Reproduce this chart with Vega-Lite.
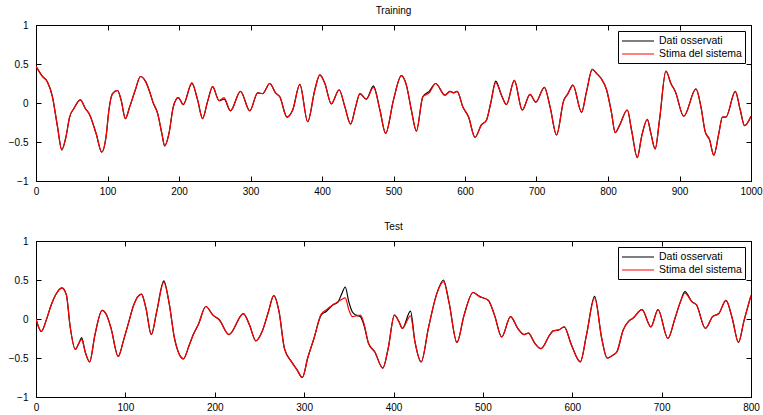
{
  "$schema": "https://vega.github.io/schema/vega-lite/v6.json",
  "padding": {"left": 7, "top": 5, "right": 3, "bottom": 5},
  "config": {
    "font": "Liberation Sans",
    "view": {"stroke": "#000000", "strokeWidth": 1},
    "axis": {"grid": false, "labelFont": "Liberation Sans", "labelFontSize": 10, "labelColor": "#000000", "domainColor": "#000000", "tickColor": "#000000", "tickSize": -5, "title": null, "labelFlush": false, "labelOverlap": false},
    "title": {"font": "Liberation Sans", "fontSize": 10, "fontWeight": "normal", "color": "#000000", "offset": 0},
    "legend": {"labelFont": "Liberation Sans", "labelFontSize": 10.5, "labelColor": "#000000"}
  },
  "spacing": 24,
  "resolve": {"legend": {"color": "independent"}},
  "vconcat": [
    {
      "title": "Training",
      "width": 715,
      "height": 156,
      "data": {"values": [
        {"x": 0, "Dati osservati": 0.47, "Stima del sistema": 0.47},
        {"x": 9, "Dati osservati": 0.34, "Stima del sistema": 0.34},
        {"x": 16, "Dati osservati": 0.27, "Stima del sistema": 0.27},
        {"x": 23, "Dati osservati": 0.08, "Stima del sistema": 0.08},
        {"x": 30, "Dati osservati": -0.30, "Stima del sistema": -0.30},
        {"x": 36, "Dati osservati": -0.60, "Stima del sistema": -0.60},
        {"x": 42, "Dati osservati": -0.43, "Stima del sistema": -0.43},
        {"x": 47, "Dati osservati": -0.18, "Stima del sistema": -0.18},
        {"x": 53, "Dati osservati": -0.07, "Stima del sistema": -0.07},
        {"x": 62, "Dati osservati": 0.04, "Stima del sistema": 0.04},
        {"x": 69, "Dati osservati": -0.07, "Stima del sistema": -0.07},
        {"x": 75, "Dati osservati": -0.15, "Stima del sistema": -0.15},
        {"x": 84, "Dati osservati": -0.39, "Stima del sistema": -0.39},
        {"x": 92, "Dati osservati": -0.63, "Stima del sistema": -0.63},
        {"x": 98, "Dati osservati": -0.43, "Stima del sistema": -0.43},
        {"x": 102, "Dati osservati": -0.09, "Stima del sistema": -0.09},
        {"x": 107, "Dati osservati": 0.12, "Stima del sistema": 0.12},
        {"x": 114, "Dati osservati": 0.16, "Stima del sistema": 0.16},
        {"x": 119, "Dati osservati": 0.04, "Stima del sistema": 0.04},
        {"x": 125, "Dati osservati": -0.20, "Stima del sistema": -0.20},
        {"x": 131, "Dati osservati": -0.05, "Stima del sistema": -0.05},
        {"x": 139, "Dati osservati": 0.17, "Stima del sistema": 0.17},
        {"x": 146, "Dati osservati": 0.34, "Stima del sistema": 0.34},
        {"x": 153, "Dati osservati": 0.28, "Stima del sistema": 0.28},
        {"x": 158, "Dati osservati": 0.17, "Stima del sistema": 0.17},
        {"x": 164, "Dati osservati": 0.0, "Stima del sistema": 0.0},
        {"x": 170, "Dati osservati": -0.13, "Stima del sistema": -0.13},
        {"x": 176, "Dati osservati": -0.39, "Stima del sistema": -0.39},
        {"x": 180, "Dati osservati": -0.55, "Stima del sistema": -0.55},
        {"x": 186, "Dati osservati": -0.39, "Stima del sistema": -0.39},
        {"x": 192, "Dati osservati": -0.05, "Stima del sistema": -0.05},
        {"x": 199, "Dati osservati": 0.07, "Stima del sistema": 0.07},
        {"x": 206, "Dati osservati": -0.02, "Stima del sistema": -0.02},
        {"x": 218, "Dati osservati": 0.25, "Stima del sistema": 0.26},
        {"x": 226, "Dati osservati": 0.04, "Stima del sistema": 0.04},
        {"x": 233, "Dati osservati": -0.20, "Stima del sistema": -0.20},
        {"x": 240, "Dati osservati": 0.02, "Stima del sistema": 0.02},
        {"x": 247, "Dati osservati": 0.21, "Stima del sistema": 0.21},
        {"x": 256, "Dati osservati": 0.03, "Stima del sistema": 0.03},
        {"x": 263, "Dati osservati": 0.05, "Stima del sistema": 0.07},
        {"x": 272, "Dati osservati": -0.10, "Stima del sistema": -0.10},
        {"x": 286, "Dati osservati": 0.15, "Stima del sistema": 0.15},
        {"x": 299, "Dati osservati": -0.10, "Stima del sistema": -0.10},
        {"x": 310, "Dati osservati": 0.13, "Stima del sistema": 0.13},
        {"x": 317, "Dati osservati": 0.12, "Stima del sistema": 0.12},
        {"x": 327, "Dati osservati": 0.25, "Stima del sistema": 0.25},
        {"x": 335, "Dati osservati": 0.13, "Stima del sistema": 0.13},
        {"x": 341, "Dati osservati": 0.08, "Stima del sistema": 0.08},
        {"x": 351, "Dati osservati": -0.18, "Stima del sistema": -0.18},
        {"x": 359, "Dati osservati": -0.09, "Stima del sistema": -0.09},
        {"x": 369, "Dati osservati": 0.24, "Stima del sistema": 0.24},
        {"x": 380, "Dati osservati": -0.24, "Stima del sistema": -0.24},
        {"x": 390, "Dati osservati": 0.17, "Stima del sistema": 0.17},
        {"x": 397, "Dati osservati": 0.36, "Stima del sistema": 0.36},
        {"x": 404, "Dati osservati": 0.25, "Stima del sistema": 0.25},
        {"x": 413, "Dati osservati": -0.01, "Stima del sistema": -0.01},
        {"x": 424, "Dati osservati": 0.17, "Stima del sistema": 0.17},
        {"x": 432, "Dati osservati": -0.05, "Stima del sistema": -0.05},
        {"x": 440, "Dati osservati": -0.27, "Stima del sistema": -0.27},
        {"x": 447, "Dati osservati": -0.05, "Stima del sistema": -0.05},
        {"x": 453, "Dati osservati": 0.12, "Stima del sistema": 0.12},
        {"x": 462, "Dati osservati": 0.05, "Stima del sistema": 0.05},
        {"x": 472, "Dati osservati": 0.22, "Stima del sistema": 0.20},
        {"x": 481, "Dati osservati": -0.09, "Stima del sistema": -0.09},
        {"x": 489, "Dati osservati": -0.39, "Stima del sistema": -0.39},
        {"x": 500, "Dati osservati": 0.04, "Stima del sistema": 0.04},
        {"x": 511, "Dati osservati": 0.35, "Stima del sistema": 0.35},
        {"x": 518, "Dati osservati": 0.23, "Stima del sistema": 0.23},
        {"x": 525, "Dati osservati": -0.09, "Stima del sistema": -0.09},
        {"x": 532, "Dati osservati": -0.36, "Stima del sistema": -0.36},
        {"x": 541, "Dati osservati": 0.08, "Stima del sistema": 0.08},
        {"x": 550, "Dati osservati": 0.15, "Stima del sistema": 0.13},
        {"x": 559, "Dati osservati": 0.25, "Stima del sistema": 0.25},
        {"x": 572, "Dati osservati": 0.10, "Stima del sistema": 0.10},
        {"x": 579, "Dati osservati": 0.15, "Stima del sistema": 0.15},
        {"x": 584, "Dati osservati": 0.13, "Stima del sistema": 0.13},
        {"x": 589, "Dati osservati": 0.15, "Stima del sistema": 0.15},
        {"x": 597, "Dati osservati": -0.05, "Stima del sistema": -0.05},
        {"x": 605, "Dati osservati": -0.18, "Stima del sistema": -0.18},
        {"x": 614, "Dati osservati": -0.44, "Stima del sistema": -0.44},
        {"x": 623, "Dati osservati": -0.28, "Stima del sistema": -0.28},
        {"x": 630, "Dati osservati": -0.22, "Stima del sistema": -0.22},
        {"x": 636, "Dati osservati": 0.0, "Stima del sistema": 0.0},
        {"x": 643, "Dati osservati": 0.28, "Stima del sistema": 0.26},
        {"x": 651, "Dati osservati": 0.10, "Stima del sistema": 0.10},
        {"x": 658, "Dati osservati": -0.02, "Stima del sistema": -0.02},
        {"x": 669, "Dati osservati": 0.29, "Stima del sistema": 0.29},
        {"x": 680, "Dati osservati": -0.09, "Stima del sistema": -0.09},
        {"x": 691, "Dati osservati": 0.11, "Stima del sistema": 0.11},
        {"x": 699, "Dati osservati": 0.01, "Stima del sistema": 0.01},
        {"x": 711, "Dati osservati": 0.20, "Stima del sistema": 0.20},
        {"x": 719, "Dati osservati": -0.05, "Stima del sistema": -0.05},
        {"x": 728, "Dati osservati": -0.41, "Stima del sistema": -0.41},
        {"x": 738, "Dati osservati": 0.03, "Stima del sistema": 0.03},
        {"x": 744, "Dati osservati": 0.12, "Stima del sistema": 0.12},
        {"x": 751, "Dati osservati": 0.23, "Stima del sistema": 0.23},
        {"x": 763, "Dati osservati": -0.12, "Stima del sistema": -0.12},
        {"x": 770, "Dati osservati": 0.15, "Stima del sistema": 0.15},
        {"x": 778, "Dati osservati": 0.43, "Stima del sistema": 0.43},
        {"x": 784, "Dati osservati": 0.38, "Stima del sistema": 0.38},
        {"x": 790, "Dati osservati": 0.32, "Stima del sistema": 0.32},
        {"x": 798, "Dati osservati": 0.17, "Stima del sistema": 0.17},
        {"x": 805, "Dati osservati": -0.13, "Stima del sistema": -0.13},
        {"x": 810, "Dati osservati": -0.38, "Stima del sistema": -0.38},
        {"x": 816, "Dati osservati": -0.29, "Stima del sistema": -0.29},
        {"x": 827, "Dati osservati": -0.09, "Stima del sistema": -0.09},
        {"x": 833, "Dati osservati": -0.35, "Stima del sistema": -0.35},
        {"x": 841, "Dati osservati": -0.70, "Stima del sistema": -0.70},
        {"x": 847, "Dati osservati": -0.43, "Stima del sistema": -0.43},
        {"x": 855, "Dati osservati": -0.21, "Stima del sistema": -0.21},
        {"x": 860, "Dati osservati": -0.39, "Stima del sistema": -0.39},
        {"x": 866, "Dati osservati": -0.59, "Stima del sistema": -0.59},
        {"x": 872, "Dati osservati": -0.22, "Stima del sistema": -0.22},
        {"x": 881, "Dati osservati": 0.41, "Stima del sistema": 0.41},
        {"x": 888, "Dati osservati": 0.25, "Stima del sistema": 0.25},
        {"x": 894, "Dati osservati": 0.15, "Stima del sistema": 0.15},
        {"x": 906, "Dati osservati": -0.17, "Stima del sistema": -0.17},
        {"x": 923, "Dati osservati": 0.18, "Stima del sistema": 0.18},
        {"x": 930, "Dati osservati": -0.05, "Stima del sistema": -0.05},
        {"x": 936, "Dati osservati": -0.37, "Stima del sistema": -0.37},
        {"x": 942, "Dati osservati": -0.47, "Stima del sistema": -0.47},
        {"x": 948, "Dati osservati": -0.67, "Stima del sistema": -0.67},
        {"x": 955, "Dati osservati": -0.39, "Stima del sistema": -0.39},
        {"x": 960, "Dati osservati": -0.18, "Stima del sistema": -0.18},
        {"x": 965, "Dati osservati": -0.18, "Stima del sistema": -0.18},
        {"x": 978, "Dati osservati": 0.15, "Stima del sistema": 0.15},
        {"x": 985, "Dati osservati": -0.09, "Stima del sistema": -0.09},
        {"x": 991, "Dati osservati": -0.29, "Stima del sistema": -0.29},
        {"x": 1000, "Dati osservati": -0.17, "Stima del sistema": -0.17}
      ]},
      "transform": [{"fold": ["Dati osservati", "Stima del sistema"], "as": ["series", "y"]}],
      "layer": [
        {
          "mark": {"type": "line", "interpolate": "monotone", "strokeWidth": 1.2, "clip": true},
          "encoding": {
            "x": {"field": "x", "type": "quantitative", "scale": {"domain": [0, 1000], "nice": false}, "axis": {"values": [0,100,200,300,400,500,600,700,800,900,1000], "labelPadding": 10, "format": "d"}},
            "y": {"field": "y", "type": "quantitative", "scale": {"domain": [-1, 1], "nice": false}, "axis": {"values": [-1,-0.5,0,0.5,1], "format": "~g", "labelPadding": 13}},
            "color": {"field": "series", "type": "nominal", "scale": {"domain": ["Dati osservati", "Stima del sistema"], "range": ["#000000", "#ff0000"]},
              "legend": {"title": null, "orient": "top-right", "offset": 6, "strokeColor": "#000000", "fillColor": "#ffffff", "padding": 3, "symbolType": "M-2.667,0H2.667", "symbolSize": 144, "symbolOffset": 10, "symbolStrokeWidth": 1.2, "rowPadding": 0, "labelOffset": 14}}
          }
        },
        {
          "mark": {"type": "line", "opacity": 0},
          "encoding": {
            "x": {"field": "x", "type": "quantitative", "scale": {"domain": [0, 1000], "nice": false}, "axis": {"orient": "top", "values": [0,100,200,300,400,500,600,700,800,900,1000], "labels": false}},
            "y": {"field": "y", "type": "quantitative", "scale": {"domain": [-1, 1], "nice": false}, "axis": {"orient": "right", "values": [-1,-0.5,0,0.5,1], "labels": false}}
          }
        }
      ],
      "resolve": {"axis": {"x": "independent", "y": "independent"}}
    },
    {
      "title": "Test",
      "width": 715,
      "height": 156,
      "data": {"values": [
        {"x": 0, "Dati osservati": 0.0, "Stima del sistema": 0.0},
        {"x": 6, "Dati osservati": -0.16, "Stima del sistema": -0.16},
        {"x": 11, "Dati osservati": -0.03, "Stima del sistema": -0.03},
        {"x": 17, "Dati osservati": 0.18, "Stima del sistema": 0.18},
        {"x": 22, "Dati osservati": 0.31, "Stima del sistema": 0.31},
        {"x": 29, "Dati osservati": 0.40, "Stima del sistema": 0.40},
        {"x": 34, "Dati osservati": 0.31, "Stima del sistema": 0.31},
        {"x": 38, "Dati osservati": -0.08, "Stima del sistema": -0.08},
        {"x": 44, "Dati osservati": -0.39, "Stima del sistema": -0.39},
        {"x": 48, "Dati osservati": -0.31, "Stima del sistema": -0.31},
        {"x": 51, "Dati osservati": -0.24, "Stima del sistema": -0.26},
        {"x": 55, "Dati osservati": -0.42, "Stima del sistema": -0.42},
        {"x": 60, "Dati osservati": -0.55, "Stima del sistema": -0.55},
        {"x": 66, "Dati osservati": -0.20, "Stima del sistema": -0.20},
        {"x": 74, "Dati osservati": 0.11, "Stima del sistema": 0.11},
        {"x": 79, "Dati osservati": 0.05, "Stima del sistema": 0.05},
        {"x": 84, "Dati osservati": -0.12, "Stima del sistema": -0.12},
        {"x": 92, "Dati osservati": -0.48, "Stima del sistema": -0.48},
        {"x": 98, "Dati osservati": -0.27, "Stima del sistema": -0.27},
        {"x": 104, "Dati osservati": -0.03, "Stima del sistema": -0.03},
        {"x": 109, "Dati osservati": 0.17, "Stima del sistema": 0.17},
        {"x": 118, "Dati osservati": 0.32, "Stima del sistema": 0.32},
        {"x": 123, "Dati osservati": 0.14, "Stima del sistema": 0.14},
        {"x": 129, "Dati osservati": -0.20, "Stima del sistema": -0.20},
        {"x": 135, "Dati osservati": 0.09, "Stima del sistema": 0.09},
        {"x": 143, "Dati osservati": 0.49, "Stima del sistema": 0.47},
        {"x": 149, "Dati osservati": 0.20, "Stima del sistema": 0.20},
        {"x": 155, "Dati osservati": -0.25, "Stima del sistema": -0.25},
        {"x": 165, "Dati osservati": -0.51, "Stima del sistema": -0.51},
        {"x": 171, "Dati osservati": -0.35, "Stima del sistema": -0.35},
        {"x": 176, "Dati osservati": -0.20, "Stima del sistema": -0.20},
        {"x": 182, "Dati osservati": -0.06, "Stima del sistema": -0.06},
        {"x": 190, "Dati osservati": 0.16, "Stima del sistema": 0.16},
        {"x": 198, "Dati osservati": 0.05, "Stima del sistema": 0.05},
        {"x": 205, "Dati osservati": -0.01, "Stima del sistema": -0.01},
        {"x": 216, "Dati osservati": -0.20, "Stima del sistema": -0.20},
        {"x": 232, "Dati osservati": 0.07, "Stima del sistema": 0.07},
        {"x": 239, "Dati osservati": -0.08, "Stima del sistema": -0.08},
        {"x": 246, "Dati osservati": -0.28, "Stima del sistema": -0.28},
        {"x": 253, "Dati osservati": -0.16, "Stima del sistema": -0.16},
        {"x": 260, "Dati osservati": 0.09, "Stima del sistema": 0.09},
        {"x": 266, "Dati osservati": 0.30, "Stima del sistema": 0.30},
        {"x": 272, "Dati osservati": 0.09, "Stima del sistema": 0.09},
        {"x": 278, "Dati osservati": -0.38, "Stima del sistema": -0.38},
        {"x": 286, "Dati osservati": -0.55, "Stima del sistema": -0.55},
        {"x": 292, "Dati osservati": -0.65, "Stima del sistema": -0.65},
        {"x": 298, "Dati osservati": -0.75, "Stima del sistema": -0.75},
        {"x": 304, "Dati osservati": -0.50, "Stima del sistema": -0.50},
        {"x": 311, "Dati osservati": -0.25, "Stima del sistema": -0.25},
        {"x": 319, "Dati osservati": 0.05, "Stima del sistema": 0.06},
        {"x": 325, "Dati osservati": 0.10, "Stima del sistema": 0.12},
        {"x": 332, "Dati osservati": 0.18, "Stima del sistema": 0.18},
        {"x": 338, "Dati osservati": 0.22, "Stima del sistema": 0.22},
        {"x": 342, "Dati osservati": 0.32, "Stima del sistema": 0.25},
        {"x": 346, "Dati osservati": 0.41, "Stima del sistema": 0.27},
        {"x": 350, "Dati osservati": 0.22, "Stima del sistema": 0.12},
        {"x": 354, "Dati osservati": 0.09, "Stima del sistema": 0.03},
        {"x": 358, "Dati osservati": 0.05, "Stima del sistema": 0.04},
        {"x": 363, "Dati osservati": 0.03, "Stima del sistema": 0.05},
        {"x": 367, "Dati osservati": -0.08, "Stima del sistema": -0.06},
        {"x": 372, "Dati osservati": -0.31, "Stima del sistema": -0.31},
        {"x": 379, "Dati osservati": -0.42, "Stima del sistema": -0.42},
        {"x": 388, "Dati osservati": -0.63, "Stima del sistema": -0.63},
        {"x": 394, "Dati osservati": -0.38, "Stima del sistema": -0.38},
        {"x": 401, "Dati osservati": 0.05, "Stima del sistema": 0.05},
        {"x": 406, "Dati osservati": -0.03, "Stima del sistema": -0.03},
        {"x": 410, "Dati osservati": -0.12, "Stima del sistema": -0.12},
        {"x": 419, "Dati osservati": 0.10, "Stima del sistema": 0.04},
        {"x": 424, "Dati osservati": -0.29, "Stima del sistema": -0.29},
        {"x": 431, "Dati osservati": -0.55, "Stima del sistema": -0.55},
        {"x": 439, "Dati osservati": -0.12, "Stima del sistema": -0.12},
        {"x": 448, "Dati osservati": 0.31, "Stima del sistema": 0.31},
        {"x": 456, "Dati osservati": 0.50, "Stima del sistema": 0.48},
        {"x": 462, "Dati osservati": 0.22, "Stima del sistema": 0.22},
        {"x": 471, "Dati osservati": -0.30, "Stima del sistema": -0.30},
        {"x": 479, "Dati osservati": 0.05, "Stima del sistema": 0.05},
        {"x": 489, "Dati osservati": 0.34, "Stima del sistema": 0.34},
        {"x": 496, "Dati osservati": 0.29, "Stima del sistema": 0.29},
        {"x": 506, "Dati osservati": 0.24, "Stima del sistema": 0.24},
        {"x": 513, "Dati osservati": 0.05, "Stima del sistema": 0.05},
        {"x": 521, "Dati osservati": -0.23, "Stima del sistema": -0.23},
        {"x": 531, "Dati osservati": 0.03, "Stima del sistema": 0.03},
        {"x": 539, "Dati osservati": -0.12, "Stima del sistema": -0.12},
        {"x": 546, "Dati osservati": -0.20, "Stima del sistema": -0.20},
        {"x": 551, "Dati osservati": -0.18, "Stima del sistema": -0.18},
        {"x": 558, "Dati osservati": -0.31, "Stima del sistema": -0.31},
        {"x": 565, "Dati osservati": -0.38, "Stima del sistema": -0.38},
        {"x": 575, "Dati osservati": -0.20, "Stima del sistema": -0.20},
        {"x": 579, "Dati osservati": -0.15, "Stima del sistema": -0.15},
        {"x": 585, "Dati osservati": -0.14, "Stima del sistema": -0.14},
        {"x": 591, "Dati osservati": -0.10, "Stima del sistema": -0.10},
        {"x": 599, "Dati osservati": -0.33, "Stima del sistema": -0.33},
        {"x": 609, "Dati osservati": -0.55, "Stima del sistema": -0.55},
        {"x": 616, "Dati osservati": -0.20, "Stima del sistema": -0.20},
        {"x": 625, "Dati osservati": 0.29, "Stima del sistema": 0.27},
        {"x": 633, "Dati osservati": -0.25, "Stima del sistema": -0.25},
        {"x": 639, "Dati osservati": -0.50, "Stima del sistema": -0.50},
        {"x": 646, "Dati osservati": -0.46, "Stima del sistema": -0.46},
        {"x": 650, "Dati osservati": -0.42, "Stima del sistema": -0.42},
        {"x": 657, "Dati osservati": -0.14, "Stima del sistema": -0.14},
        {"x": 663, "Dati osservati": -0.03, "Stima del sistema": -0.03},
        {"x": 668, "Dati osservati": 0.01, "Stima del sistema": 0.01},
        {"x": 678, "Dati osservati": 0.12, "Stima del sistema": 0.12},
        {"x": 688, "Dati osservati": -0.10, "Stima del sistema": -0.10},
        {"x": 696, "Dati osservati": 0.12, "Stima del sistema": 0.12},
        {"x": 707, "Dati osservati": -0.25, "Stima del sistema": -0.25},
        {"x": 715, "Dati osservati": 0.01, "Stima del sistema": 0.01},
        {"x": 721, "Dati osservati": 0.22, "Stima del sistema": 0.22},
        {"x": 726, "Dati osservati": 0.35, "Stima del sistema": 0.33},
        {"x": 734, "Dati osservati": 0.22, "Stima del sistema": 0.22},
        {"x": 739, "Dati osservati": 0.18, "Stima del sistema": 0.18},
        {"x": 749, "Dati osservati": -0.12, "Stima del sistema": -0.12},
        {"x": 757, "Dati osservati": 0.03, "Stima del sistema": 0.03},
        {"x": 764, "Dati osservati": 0.07, "Stima del sistema": 0.07},
        {"x": 772, "Dati osservati": 0.24, "Stima del sistema": 0.24},
        {"x": 779, "Dati osservati": 0.01, "Stima del sistema": 0.01},
        {"x": 786, "Dati osservati": -0.30, "Stima del sistema": -0.30},
        {"x": 792, "Dati osservati": -0.03, "Stima del sistema": -0.03},
        {"x": 800, "Dati osservati": 0.30, "Stima del sistema": 0.30}
      ]},
      "transform": [{"fold": ["Dati osservati", "Stima del sistema"], "as": ["series", "y"]}],
      "layer": [
        {
          "mark": {"type": "line", "interpolate": "monotone", "strokeWidth": 1.2, "clip": true},
          "encoding": {
            "x": {"field": "x", "type": "quantitative", "scale": {"domain": [0, 800], "nice": false}, "axis": {"values": [0,100,200,300,400,500,600,700,800], "labelPadding": 10, "format": "d"}},
            "y": {"field": "y", "type": "quantitative", "scale": {"domain": [-1, 1], "nice": false}, "axis": {"values": [-1,-0.5,0,0.5,1], "format": "~g", "labelPadding": 13}},
            "color": {"field": "series", "type": "nominal", "scale": {"domain": ["Dati osservati", "Stima del sistema"], "range": ["#000000", "#ff0000"]},
              "legend": {"title": null, "orient": "top-right", "offset": 6, "strokeColor": "#000000", "fillColor": "#ffffff", "padding": 3, "symbolType": "M-2.667,0H2.667", "symbolSize": 144, "symbolOffset": 10, "symbolStrokeWidth": 1.2, "rowPadding": 0, "labelOffset": 14}}
          }
        },
        {
          "mark": {"type": "line", "opacity": 0},
          "encoding": {
            "x": {"field": "x", "type": "quantitative", "scale": {"domain": [0, 800], "nice": false}, "axis": {"orient": "top", "values": [0,100,200,300,400,500,600,700,800], "labels": false}},
            "y": {"field": "y", "type": "quantitative", "scale": {"domain": [-1, 1], "nice": false}, "axis": {"orient": "right", "values": [-1,-0.5,0,0.5,1], "labels": false}}
          }
        }
      ],
      "resolve": {"axis": {"x": "independent", "y": "independent"}}
    }
  ]
}
